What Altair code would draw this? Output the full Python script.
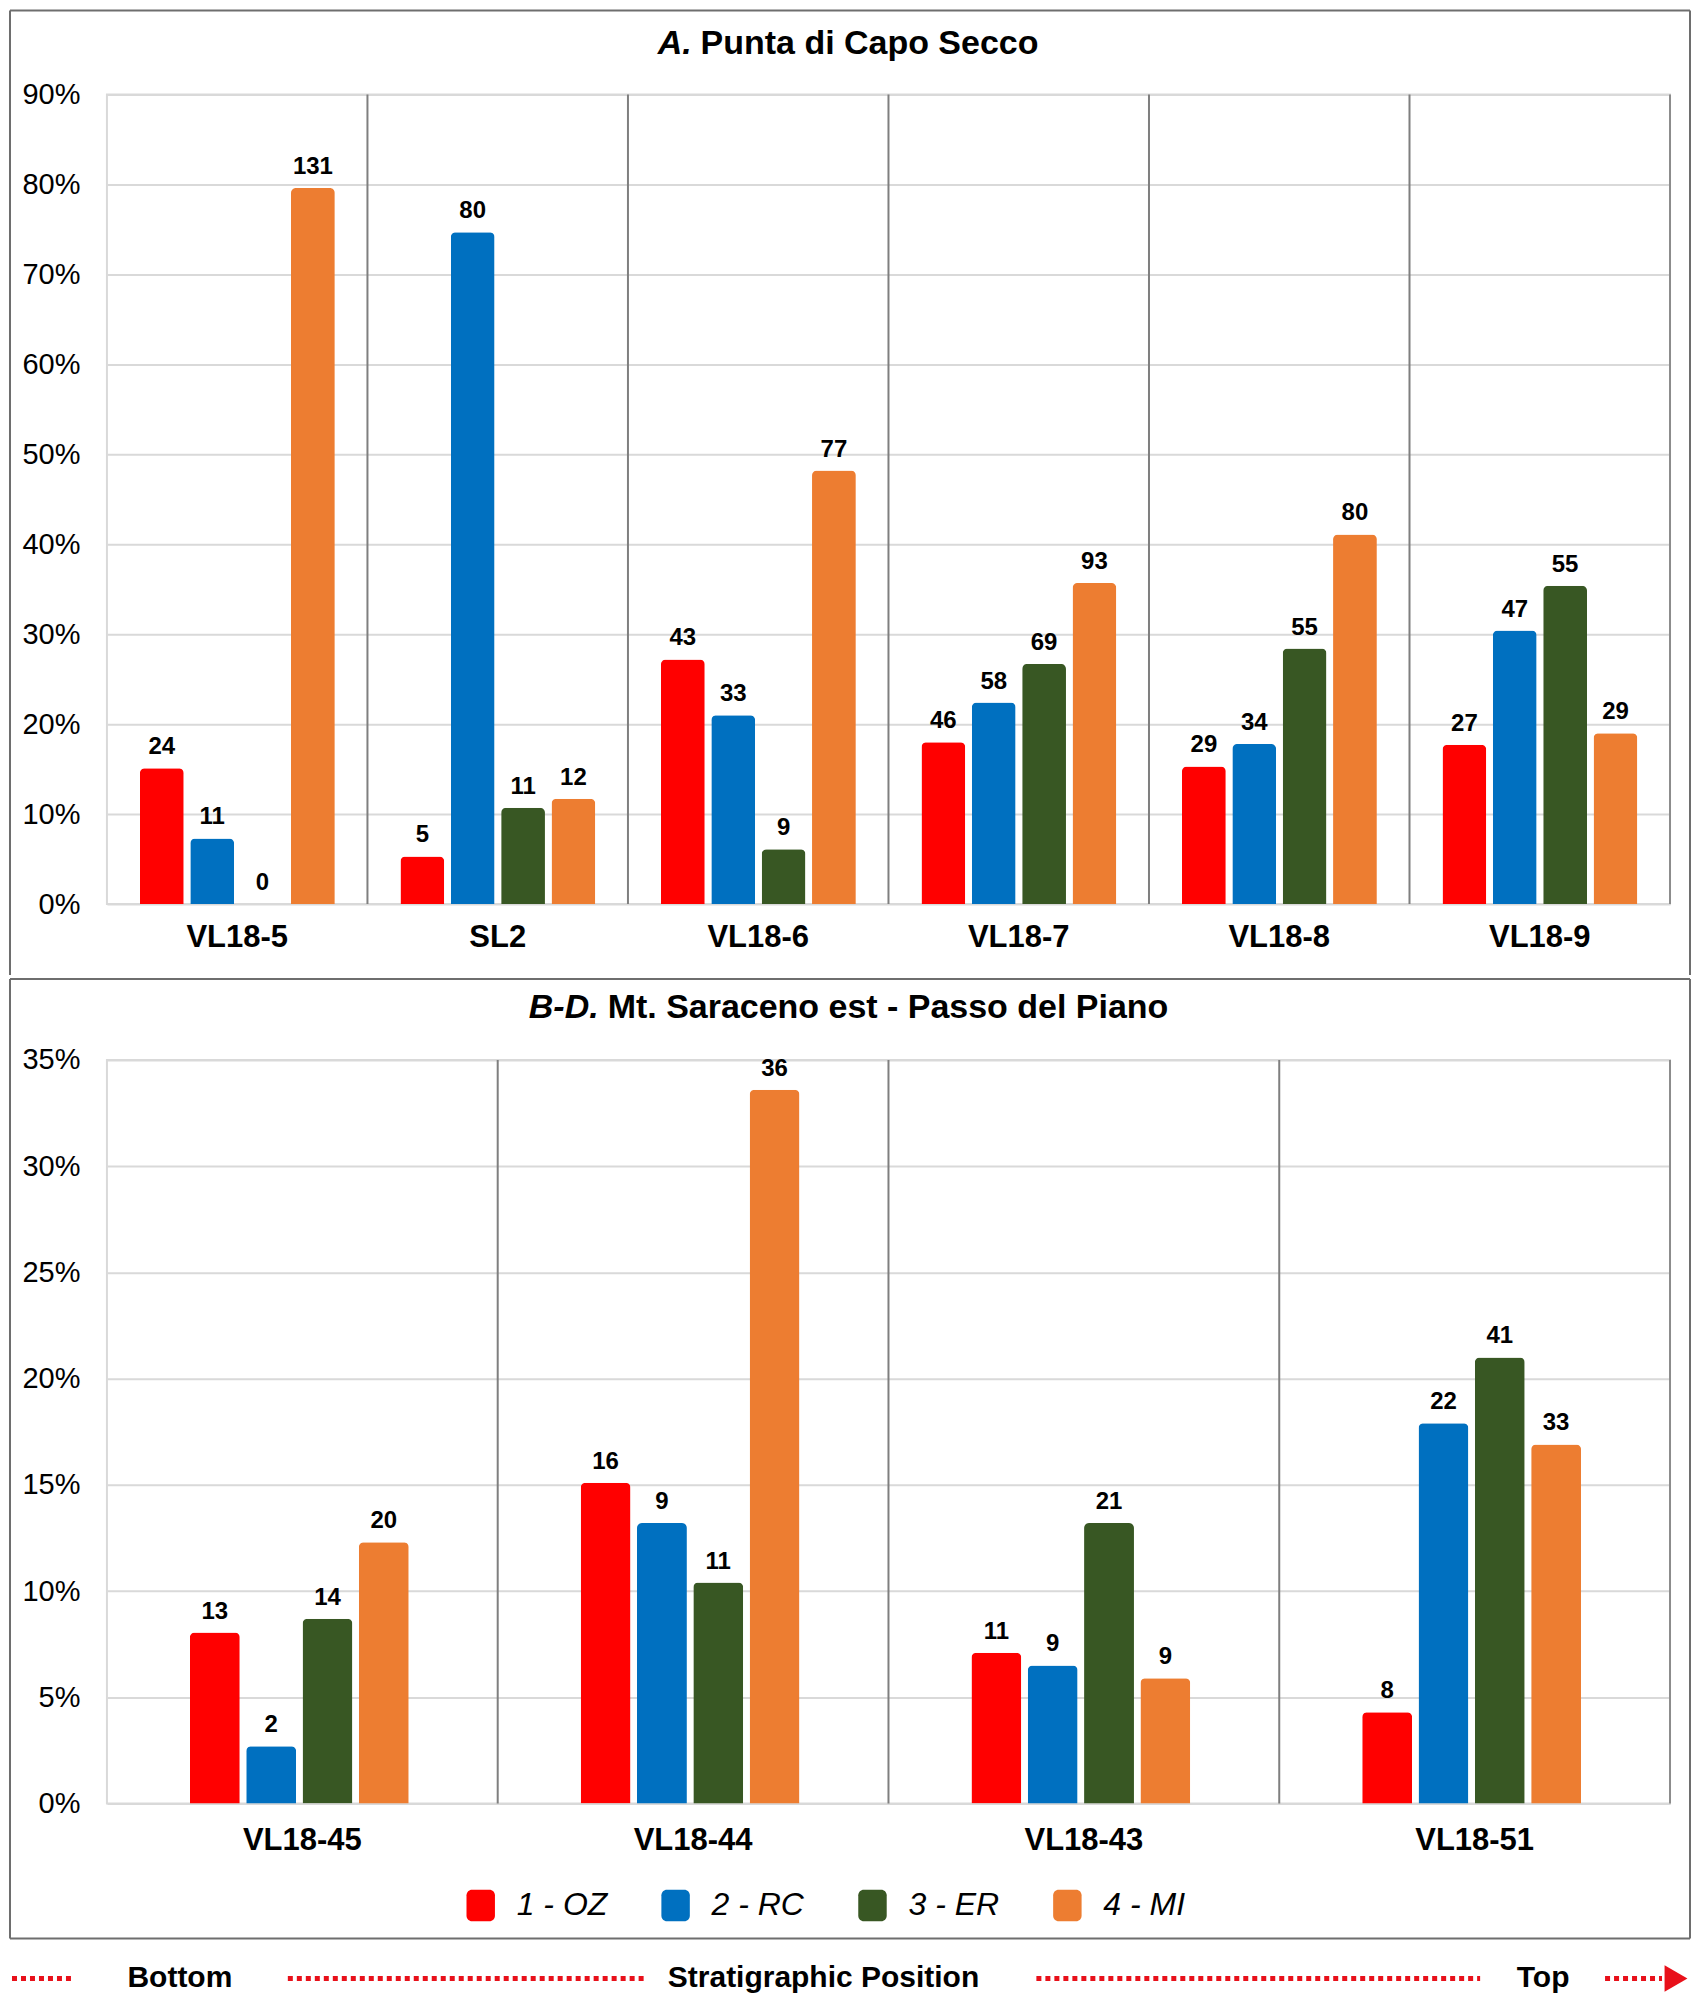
import altair as alt
import pandas as pd

FONT = "Liberation Sans"

groups = ["1 - OZ", "2 - RC", "3 - ER", "4 - MI"]
colors = ["#FF0000", "#0070C0", "#385723", "#ED7D31"]

# Panel A - Punta di Capo Secco (percent, counts)
a_samples = ["VL18-5", "SL2", "VL18-6", "VL18-7", "VL18-8", "VL18-9"]
a_oz = [15.1, 5.3, 27.2, 18.0, 15.3, 17.7]
a_rc = [7.3, 74.7, 21.0, 22.4, 17.8, 30.4]
a_er = [0.0, 10.7, 6.1, 26.7, 28.4, 35.4]
a_mi = [79.6, 11.7, 48.2, 35.7, 41.1, 19.0]
a_n_oz = [24, 5, 43, 46, 29, 27]
a_n_rc = [11, 80, 33, 58, 34, 47]
a_n_er = [0, 11, 9, 69, 55, 55]
a_n_mi = [131, 12, 77, 93, 80, 29]

# Panel B-D - Mt. Saraceno est - Passo del Piano
b_samples = ["VL18-45", "VL18-44", "VL18-43", "VL18-51"]
b_oz = [8.05, 15.1, 7.1, 4.3]
b_rc = [2.7, 13.2, 6.5, 17.9]
b_er = [8.7, 10.4, 13.2, 21.0]
b_mi = [12.3, 33.6, 5.9, 16.9]
b_n_oz = [13, 16, 11, 8]
b_n_rc = [2, 9, 9, 22]
b_n_er = [14, 11, 21, 41]
b_n_mi = [20, 36, 9, 33]

a_ticks = [0, 0.1, 0.2, 0.3, 0.4, 0.5, 0.6, 0.7, 0.8, 0.9]
b_ticks = [0, 0.05, 0.1, 0.15, 0.2, 0.25, 0.3, 0.35]


def long_df(samples, pcts, counts):
    rows = []
    for g, p_list, n_list in zip(groups, pcts, counts):
        for s, p, n in zip(samples, p_list, n_list):
            rows.append({"sample": s, "group": g, "pct": p / 100.0, "n": n})
    return pd.DataFrame(rows)


a_df = long_df(a_samples, [a_oz, a_rc, a_er, a_mi], [a_n_oz, a_n_rc, a_n_er, a_n_mi])
b_df = long_df(b_samples, [b_oz, b_rc, b_er, b_mi], [b_n_oz, b_n_rc, b_n_er, b_n_mi])

W = 1564
one = pd.DataFrame({"k": [0]})
FRAME = "#6E6E6E"

legend_path = ("M-0.55,-1 L0.55,-1 A0.35,0.35 0 0 1 0.9,-0.65 L0.9,0.65 "
               "A0.35,0.35 0 0 1 0.55,1 L-0.55,1 A0.35,0.35 0 0 1 -0.9,0.65 "
               "L-0.9,-0.65 A0.35,0.35 0 0 1 -0.55,-1 Z")


def vrule(xv, y1, y2):
    return alt.Chart(one).mark_rule(color=FRAME, strokeWidth=2).encode(
        x=alt.value(xv), y=alt.value(y1), y2=alt.value(y2))


def hrule(yv, x1, x2):
    return alt.Chart(one).mark_rule(color=FRAME, strokeWidth=2).encode(
        y=alt.value(yv), x=alt.value(x1), x2=alt.value(x2))


def panel(df, samples, ymax, ticks, H, pin, orange, title_a, title_b, split_x,
          title_y, frame_layers, legend, xpad):
    x = alt.X("sample:N", sort=samples,
              scale=alt.Scale(paddingInner=0, paddingOuter=0),
              axis=alt.Axis(title=None, labelFontSize=31, labelFontWeight="bold",
                            labelAngle=0, labelAlign="center", ticks=False,
                            domain=False, bandPosition=0.5,
                            labelPadding=xpad, grid=False, labelColor="#000000"))
    xo = alt.XOffset("group:N", sort=groups,
                     scale=alt.Scale(paddingInner=pin, paddingOuter=0, range=orange))
    y = alt.Y("pct:Q", scale=alt.Scale(domain=[0, ymax], nice=False),
              axis=alt.Axis(values=ticks, format=".0%", title=None,
                            labelFontSize=29, ticks=False, domain=False,
                            labelPadding=27, gridColor="#D9D9D9", gridWidth=2,
                            labelColor="#000000", minExtent=70, maxExtent=70))
    if legend:
        leg = alt.Legend(title=None, orient="none", legendX=358, legendY=H + 86,
                         direction="horizontal", symbolType=legend_path,
                         symbolSize=1000, symbolStrokeWidth=0, labelFontSize=32,
                         labelFontStyle="italic", labelOffset=20,
                         columnPadding=52, labelColor="#000000")
    else:
        leg = None
    color = alt.Color("group:N", sort=groups,
                      scale=alt.Scale(domain=groups, range=colors), legend=leg)

    base = alt.Chart(df)
    bars = base.mark_bar(cornerRadiusTopLeft=5, cornerRadiusTopRight=5).encode(
        x=x, xOffset=xo, y=y, color=color)
    labels = base.mark_text(fontSize=24, fontWeight="bold", baseline="bottom",
                            dy=-9, color="#000000").encode(
        x=alt.X("sample:N", sort=samples), xOffset=alt.XOffset("group:N", sort=groups),
        y="pct:Q", text="n:Q")

    div_df = pd.DataFrame({"sample": samples[1:]})
    dividers = alt.Chart(div_df).mark_rule(color="#7F7F7F", strokeWidth=2).encode(
        x=alt.X("sample:N", sort=samples, bandPosition=0))
    right_df = pd.DataFrame({"sample": samples[-1:]})
    right_edge = alt.Chart(right_df).mark_rule(color="#8C8C8C", strokeWidth=2).encode(
        x=alt.X("sample:N", sort=samples, bandPosition=1))

    t1 = alt.Chart(one).mark_text(text=title_a, fontSize=34, fontWeight="bold",
                                  fontStyle="italic", align="right",
                                  baseline="middle", color="#000000").encode(
        x=alt.value(split_x - 9), y=alt.value(title_y))
    t2 = alt.Chart(one).mark_text(text=title_b, fontSize=34, fontWeight="bold",
                                  align="left", baseline="middle",
                                  color="#000000").encode(
        x=alt.value(split_x), y=alt.value(title_y))

    layers = frame_layers + [dividers, right_edge, bars, labels, t1, t2]
    return alt.layer(*layers).properties(width=W, height=H)


HA, HB = 810, 744
XL, XR = -97, W + 20

# panel A frame: top, left, right (the bottom line is panel B's top line)
frame_a = [hrule(-84, XL, XR), vrule(XL, -84, HA + 71), vrule(XR, -84, HA + 71)]
# panel B frame: top (separator), left, right, bottom
BT = -81
frame_b = [hrule(BT, XL, XR), vrule(XL, BT, HB + 135), vrule(XR, BT, HB + 135),
           hrule(HB + 135, XL, XR)]

pa = panel(a_df, a_samples, 0.9, a_ticks, HA, 0.13, [33, 228],
           "A.", "Punta di Capo Secco", 594, -51, frame_a, False, 33)
pb = panel(b_df, b_samples, 0.35, b_ticks, HB, 0.114, [83, 302],
           "B-D.", "Mt. Saraceno est - Passo del Piano", 501, -52, frame_b, True, 37)

# bottom "stratigraphic position" strip (decoration, in panel B pixel space)
strip_y = 919
red = "#E8101A"
segs = [(-95, -32), (181, 539), (930, 1374), (1499, 1556)]
strip = []
for a, b in segs:
    strip.append(alt.Chart(one).mark_rule(color=red, strokeWidth=5,
                                          strokeDash=[5, 4]).encode(
        x=alt.value(a), x2=alt.value(b), y=alt.value(strip_y)))
strip.append(alt.Chart(one).mark_point(shape="triangle-right", filled=True,
                                       color=red, size=700, opacity=1).encode(
    x=alt.value(1570), y=alt.value(strip_y)))
for txt, cx in [("Bottom", 73), ("Stratigraphic Position", 717), ("Top", 1437)]:
    strip.append(alt.Chart(one).mark_text(text=txt, fontSize=30, fontWeight="bold",
                                          align="center", baseline="middle",
                                          color="#000000").encode(
        x=alt.value(cx), y=alt.value(strip_y)))

pb_full = alt.layer(pb, *strip)

chart = alt.vconcat(pa, pb_full, spacing=0).resolve_legend(
    color="independent").resolve_scale(xOffset="independent").properties(
    padding={"left": 0, "top": 0, "right": 0, "bottom": 0}
).configure(font=FONT).configure_view(stroke="#D9D9D9", strokeWidth=2)

chart.save("out.html", embed_options={"renderer": "svg", "actions": False})
